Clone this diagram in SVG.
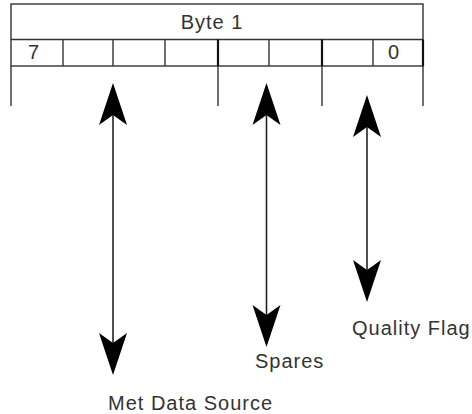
<svg xmlns="http://www.w3.org/2000/svg" width="472" height="414" viewBox="0 0 472 414">
<style>
.ln{stroke:#333;stroke-width:1.4;fill:none}
.thk{stroke:#111;stroke-width:2.2;fill:none}
.shaft{stroke:#222;stroke-width:1.6;fill:none}
.t{font-family:"Liberation Sans",Arial,sans-serif;font-size:20px;fill:#333;letter-spacing:1px}
</style>
<defs>
<path id="head" d="M0,0 L14,42 L0,32 L-14,42 Z" fill="#000"/>
</defs>
<g id="byte-register">
<rect class="ln" x="11" y="4" width="412" height="62"/>
<line class="ln" x1="11" y1="39.5" x2="423" y2="39.5"/>
<text class="t" x="212" y="29" text-anchor="middle">Byte 1</text>
</g>
<g id="bits">
<line class="ln" x1="63" y1="39.5" x2="63" y2="66"/>
<line class="ln" x1="113" y1="39.5" x2="113" y2="66"/>
<line class="ln" x1="165" y1="39.5" x2="165" y2="66"/>
<line class="thk" x1="218" y1="39.5" x2="218" y2="66"/>
<line class="ln" x1="269" y1="39.5" x2="269" y2="66"/>
<line class="thk" x1="322" y1="39.5" x2="322" y2="66"/>
<line class="ln" x1="373" y1="39.5" x2="373" y2="66"/>
<line class="thk" x1="423" y1="39.5" x2="423" y2="66"/>
<text class="t" x="28" y="59">7</text>
<text class="t" x="388" y="59">0</text>
</g>
<g id="field-dividers">
<line class="ln" x1="11" y1="66" x2="11" y2="106"/>
<line class="ln" x1="218" y1="66" x2="218" y2="106"/>
<line class="ln" x1="322" y1="66" x2="322" y2="106"/>
<line class="ln" x1="423" y1="66" x2="423" y2="106"/>
</g>
<g id="connectors">
<line class="shaft" x1="113" y1="110" x2="113" y2="350"/>
<use href="#head" transform="translate(113,83)"/>
<use href="#head" transform="translate(113,375) rotate(180)"/>
<line class="shaft" x1="266.5" y1="110" x2="266.5" y2="320"/>
<use href="#head" transform="translate(266.5,83)"/>
<use href="#head" transform="translate(266.5,347) rotate(180)"/>
<line class="shaft" x1="367" y1="122" x2="367" y2="275"/>
<use href="#head" transform="translate(367,95)"/>
<use href="#head" transform="translate(367,302) rotate(180)"/>
</g>
<g id="label-met">
<text class="t" x="108" y="410">Met Data Source</text>
</g>
<g id="label-spares">
<text class="t" x="255" y="368">Spares</text>
</g>
<g id="label-quality">
<text class="t" x="352" y="335">Quality Flag</text>
</g>
</svg>
